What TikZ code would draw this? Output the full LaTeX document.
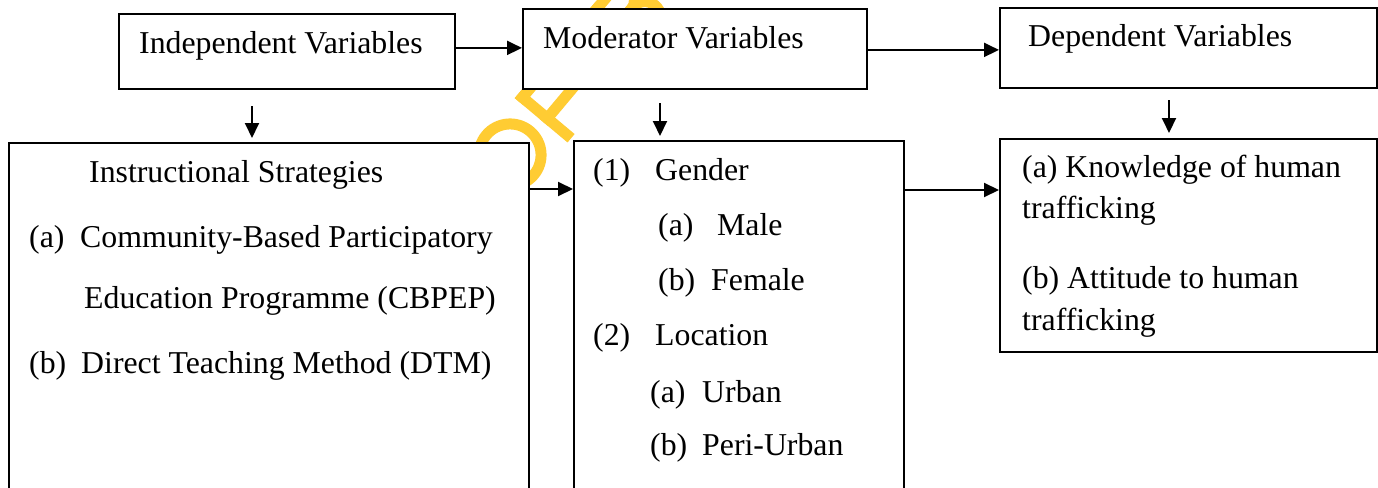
\documentclass[tikz,border=0pt]{standalone}
\usepackage{fontspec}
\setmainfont{Liberation Serif}
\usetikzlibrary{arrows.meta}
\definecolor{wm}{RGB}{255,204,51}
\begin{document}
\begin{tikzpicture}[x=1pt,y=-1pt,
  box/.style={draw=black, line width=1.8pt, fill=white, inner sep=0pt, anchor=north west},
  arr/.style={draw=black, line width=2pt, -{Triangle[length=15pt,width=14pt]}},
  txt/.style={anchor=base west, inner sep=0pt, font=\fontsize{31.8pt}{38pt}\selectfont},
  wmline/.style={draw=wm, line width=11pt}]
\useasboundingbox (0,0) rectangle (1378,487);
\clip (0,0) rectangle (1378,487);
\fill[white] (0,0) rectangle (1378,487);
% watermark fragment
\begin{scope}[shift={(513.2pt,-207.2pt)}, x={(0.643pt,0.766pt)}, y={(-0.766pt,0.643pt)}]
  \draw[wmline] (38,36) circle[radius=31];
  \draw[wmline] (90,0) -- (90,69);
  \draw[wmline] (84.5,63.5) -- (140,63.5);
  \draw[wmline] (84.5,31) -- (133,31);
  \draw[wmline] (205,0) -- (205,69);
  \draw[wmline] (200,63.5) -- (228,63.5) arc[start angle=90,end angle=-90,radius=13.25] -- (200,37);
  \draw[wmline] (200,37) -- (230,37) arc[start angle=90,end angle=-90,radius=15.75] -- (200,5.5);
\end{scope}
% boxes
\node[box, minimum width=336pt, minimum height=75pt] (indep) at (118,13) {};
\node[box, minimum width=344pt, minimum height=80pt] (mod) at (522,8) {};
\node[box, minimum width=377pt, minimum height=80pt] (dep) at (999,7) {};
\node[box, minimum width=520pt, minimum height=360pt] (instr) at (8,142) {};
\node[box, minimum width=330pt, minimum height=360pt] (gender) at (573,140) {};
\node[box, minimum width=377pt, minimum height=213pt] (result) at (999,138) {};
% arrows
\draw[arr] ([yshift=3.5pt]indep.east) -- ([yshift=3.5pt]indep.east -| mod.west);
\draw[arr] ([yshift=-1pt]mod.east) -- ([yshift=-1pt]mod.east -| dep.west);
\draw[arr] ([yshift=-47pt]instr.north east) -- ([yshift=-47pt]instr.north east -| gender.west);
\draw[arr] ([yshift=-50pt]gender.north east) -- ([yshift=-50pt]gender.north east -| result.west);
\coordinate (d1a) at (252,106); \coordinate (d1b) at (252,138);
\coordinate (d2a) at (660,103); \coordinate (d2b) at (660,136);
\coordinate (d3a) at (1169,100); \coordinate (d3b) at (1169,133);
\draw[arr] (d1a) -- (d1b);
\draw[arr] (d2a) -- (d2b);
\draw[arr] (d3a) -- (d3b);
% texts
\node[txt] (tIndep) at (139,53) {Independent Variables};
\node[txt] (tMod) at (543,48.5) {Moderator Variables};
\node[txt] (tDep) at (1028,47) {Dependent Variables};
\node[txt] (tInstr) at (89,182) {Instructional Strategies};
\node[txt] (lA) at (29,247) {(a)};
\node[txt] (tCBP) at (80,247) {Community-Based Participatory};
\node[txt] (tEdu) at (84,308) {Education Programme (CBPEP)};
\node[txt] (lB) at (29,373) {(b)};
\node[txt] (tDTM) at (81,373) {Direct Teaching Method (DTM)};
\node[txt] (l1) at (593,180) {(1)};
\node[txt] (tGen) at (655,180) {Gender};
\node[txt] (lGa) at (658,235) {(a)};
\node[txt] (tMale) at (717,235) {Male};
\node[txt] (lGb) at (658,290) {(b)};
\node[txt] (tFem) at (711,290) {Female};
\node[txt] (l2) at (593,345) {(2)};
\node[txt] (tLoc) at (655,345) {Location};
\node[txt] (lLa) at (650,402) {(a)};
\node[txt] (tUrb) at (702,402) {Urban};
\node[txt] (lLb) at (650,455) {(b)};
\node[txt] (tPeri) at (702,455) {Peri-Urban};
\node[txt] (tKn1) at (1022,177) {(a) Knowledge of human};
\node[txt] (tKn2) at (1022,218) {trafficking};
\node[txt] (tAt1) at (1022,288) {(b) Attitude to human};
\node[txt] (tAt2) at (1022,330) {trafficking};
\end{tikzpicture}
\end{document}
